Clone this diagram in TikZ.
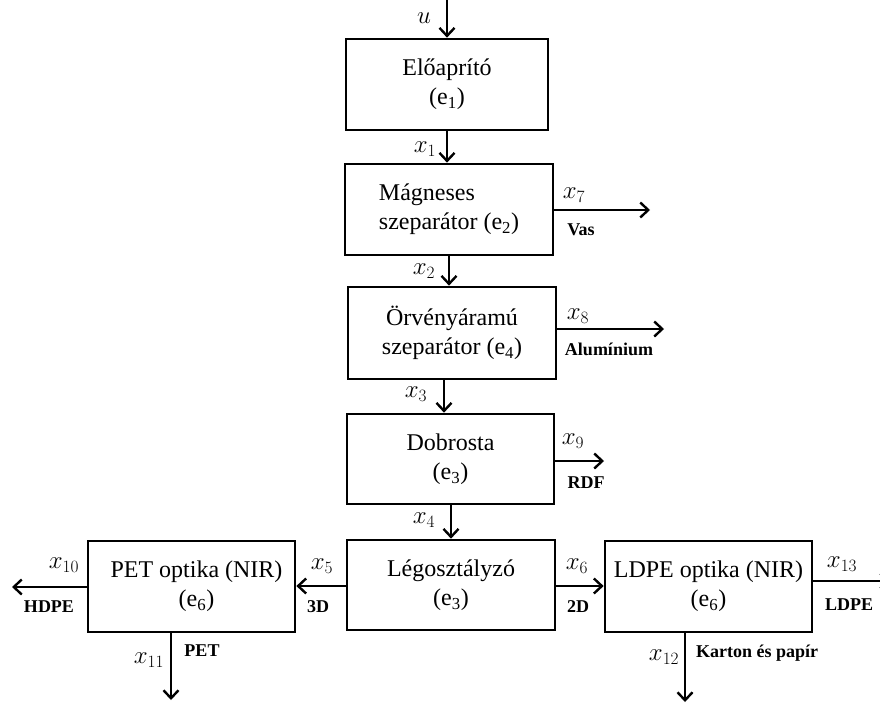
\documentclass[tikz,border=0pt]{standalone}
\usepackage{fontspec}
\setmainfont{Liberation Serif}
\usetikzlibrary{arrows.meta}
\begin{document}
\begin{tikzpicture}[x=1pt,y=-1pt,
  blk/.style={draw, line width=2.7pt, inner sep=0pt, align=center,
    font=\fontsize{24}{29}\selectfont},
  flow/.style={line width=2.4pt,
    -{Straight Barb[length=8pt,width=15pt]}},
  lab/.style={inner sep=0pt, font=\fontsize{24}{24}\selectfont},
  tag/.style={inner sep=0pt, font=\fontsize{18}{18}\selectfont\bfseries}]
\useasboundingbox (0,0) rectangle (880,707);

% process units
\node[blk, minimum width=202pt, minimum height=91pt] (b1) at (447,84.5)
  {Előaprító\\(e\textsubscript{1})};
\node[blk, align=left, minimum width=208pt, minimum height=91pt] (b2) at (449,209.5)
  {Mágneses\\szeparátor (e\textsubscript{2})};
\node[blk, minimum width=208pt, minimum height=92pt] (b3) at (452,333)
  {Örvényáramú\\szeparátor (e\textsubscript{4})};
\node[blk, minimum width=207pt, minimum height=90pt] (b4) at (450.5,459)
  {Dobrosta\\(e\textsubscript{3})};
\node[blk, minimum width=208pt, minimum height=90pt] (b5) at (451,585)
  {Légosztályzó\\(e\textsubscript{3})};
\node[blk, minimum width=207pt, minimum height=91pt] (b6) at (191.5,586.5)
  {\hspace*{10pt}PET optika (NIR)\\\hspace*{10pt}(e\textsubscript{6})};
\node[blk, minimum width=207pt, minimum height=91pt] (b7) at (708.5,586.5)
  {LDPE optika (NIR)\\(e\textsubscript{6})};

% reference points for the streams
\coordinate (uin) at (447,0);
\coordinate (c1) at (447,0);
\coordinate (c2) at (449,0);
\coordinate (c3) at (444,0);
\coordinate (c4) at (451,0);
\coordinate (o7) at (650,210);
\coordinate (o8) at (664,329);
\coordinate (o9) at (604,461);
\coordinate (r56) at (0,586);
\coordinate (o10) at (12,587);
\coordinate (o13) at (890,581);
\coordinate (o11) at (171,700);
\coordinate (o12) at (685,702);

% main line
\draw[flow] (uin) -- (b1.north);
\draw[flow] (b1.south -| c1) -- (b2.north -| c1);
\draw[flow] (b2.south -| c2) -- (b3.north -| c2);
\draw[flow] (b3.south -| c3) -- (b4.north -| c3);
\draw[flow] (b4.south -| c4) -- (b5.north -| c4);

% side outputs
\draw[flow] (b2.east |- o7) -- (o7);
\draw[flow] (b3.east |- o8) -- (o8);
\draw[flow] (b4.east |- o9) -- (o9);
\draw[flow] (b5.west |- r56) -- (b6.east |- r56);
\draw[flow] (b5.east |- r56) -- (b7.west |- r56);
\draw[flow] (b6.west |- o10) -- (o10);
\draw[flow] (b6.south -| o11) -- (o11);
\draw[flow] (b7.south -| o12) -- (o12);
\draw[flow] (b7.east |- o13) -- (o13);

% stream labels
\node[lab] (lu) at (424,18) {$u$};
\node[lab] (l1) at (425,149) {$x_{1}$};
\node[lab] (l2) at (424,271) {$x_{2}$};
\node[lab] (l3) at (416,394) {$x_{3}$};
\node[lab] (l4) at (424,520) {$x_{4}$};
\node[lab] (l5) at (322,566) {$x_{5}$};
\node[lab] (l6) at (577,566) {$x_{6}$};
\node[lab] (l7) at (574,195) {$x_{7}$};
\node[lab] (l8) at (578,316) {$x_{8}$};
\node[lab] (l9) at (573,441) {$x_{9}$};
\node[lab] (l10) at (64,565) {$x_{10}$};
\node[lab] (l11) at (149,660) {$x_{11}$};
\node[lab] (l12) at (664,657) {$x_{12}$};
\node[lab] (l13) at (842,564) {$x_{13}$};

% material names
\node[tag] (tv) at (581,230) {Vas};
\node[tag] (ta) at (609,349) {Alumínium};
\node[tag] (tr) at (586,483) {RDF};
\node[tag] (t3d) at (318,607) {3D};
\node[tag] (t2d) at (578,607) {2D};
\node[tag] (th) at (49,607) {HDPE};
\node[tag] (tp) at (202,651) {PET};
\node[tag] (tk) at (757,653) {Karton és papír};
\node[tag] (tl) at (849,605) {LDPE};
\end{tikzpicture}
\end{document}
